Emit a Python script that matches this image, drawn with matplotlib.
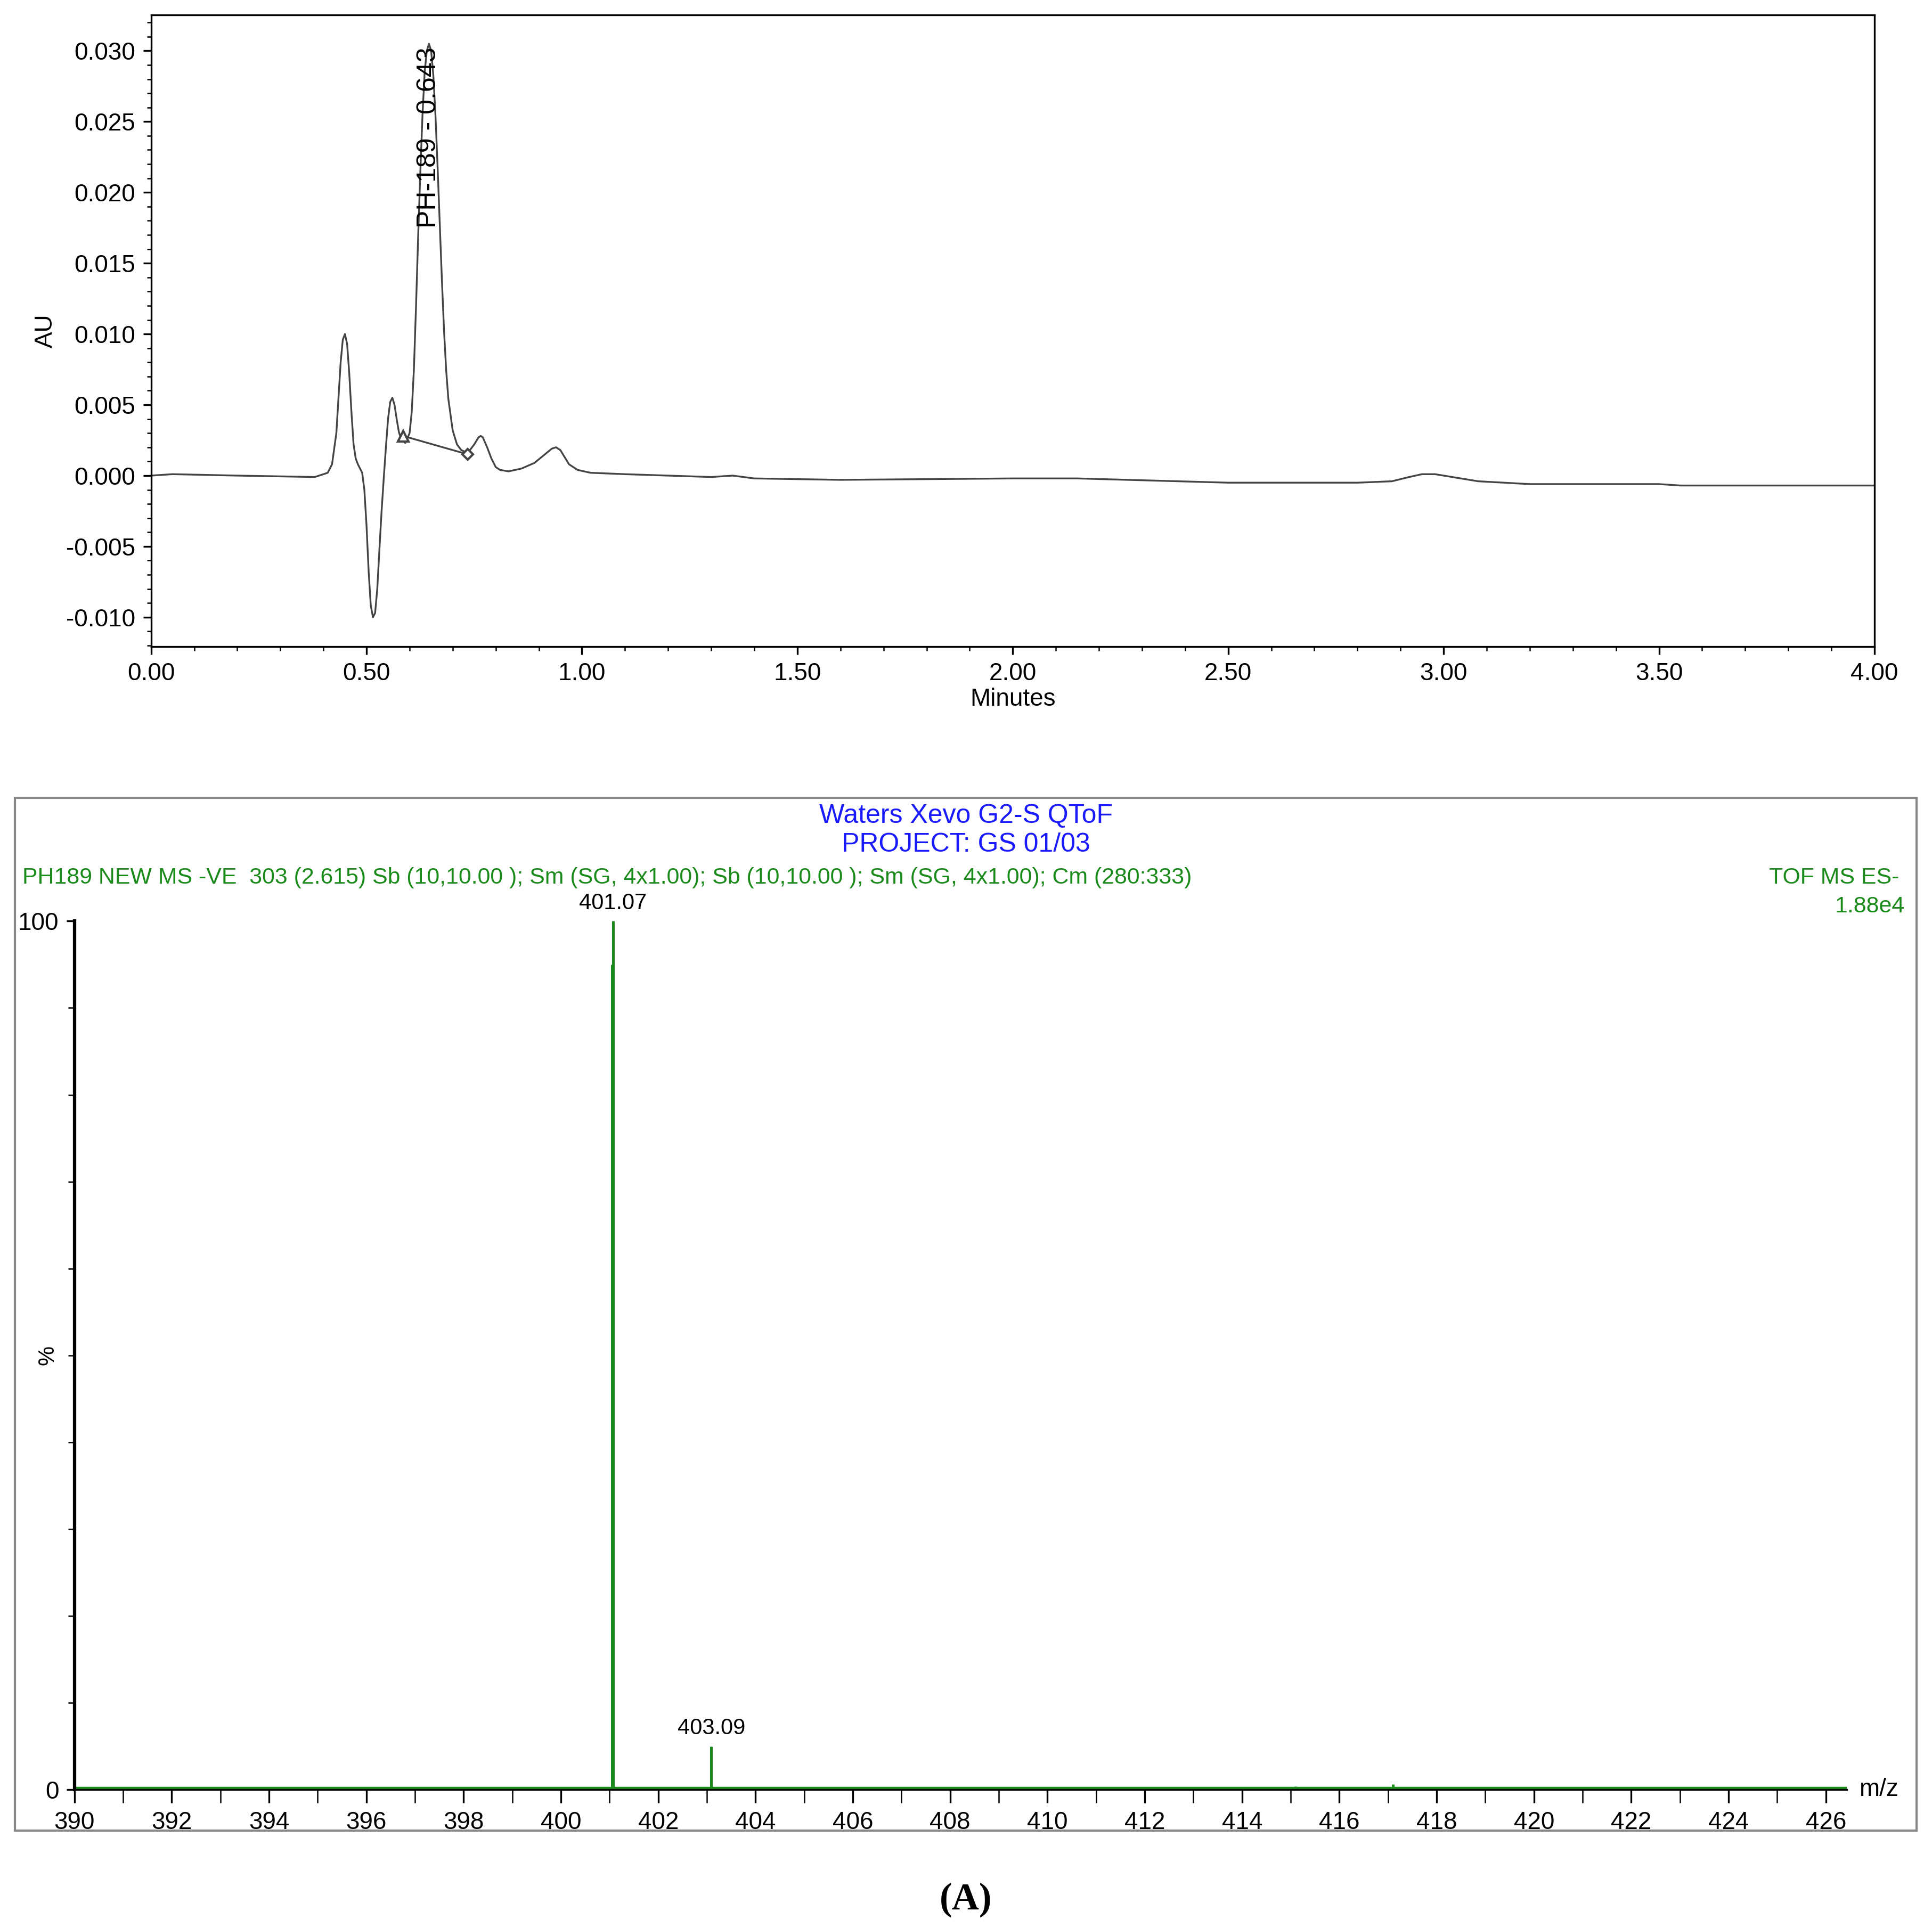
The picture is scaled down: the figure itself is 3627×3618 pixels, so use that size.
import matplotlib.pyplot as plt
from matplotlib.patches import Rectangle
from matplotlib.ticker import MultipleLocator

plt.rcParams['font.family'] = ['Liberation Sans', 'DejaVu Sans']

# chromatogram trace (minutes, AU)
time_min = [0.00, 0.05, 0.20, 0.38, 0.41, 0.42, 0.43, 0.435, 0.44, 0.445, 0.45, 0.455,
            0.46, 0.465, 0.47, 0.475, 0.48, 0.49, 0.495, 0.50, 0.505, 0.51, 0.515, 0.52,
            0.525, 0.53, 0.535, 0.54, 0.545, 0.55, 0.555, 0.56, 0.565, 0.57, 0.575, 0.58,
            0.59, 0.60, 0.605, 0.61, 0.615, 0.62, 0.625, 0.63, 0.635, 0.64, 0.645, 0.65,
            0.655, 0.66, 0.665, 0.67, 0.675, 0.68, 0.685, 0.69, 0.70, 0.71, 0.72, 0.735,
            0.75, 0.76, 0.765, 0.77, 0.78, 0.79, 0.80, 0.81, 0.83, 0.86, 0.89, 0.91,
            0.93, 0.94, 0.95, 0.96, 0.97, 0.99, 1.02, 1.10, 1.30, 1.35, 1.40, 1.60,
            2.00, 2.15, 2.50, 2.80, 2.88, 2.92, 2.95, 2.98, 3.02, 3.08, 3.20, 3.50,
            3.55, 4.00]
absorb = [0.0000, 0.0001, 0.0000, -0.0001, 0.0002, 0.0008, 0.0030, 0.0055, 0.0080, 0.0096,
          0.0100, 0.0093, 0.0072, 0.0045, 0.0022, 0.0012, 0.0008, 0.0002, -0.0010, -0.0035,
          -0.0068, -0.0092, -0.0100, -0.0097, -0.0080, -0.0052, -0.0025, -0.0002, 0.0020,
          0.0040, 0.0052, 0.0055, 0.0050, 0.0040, 0.0031, 0.0026, 0.0023, 0.0030, 0.0045,
          0.0075, 0.0120, 0.0170, 0.0215, 0.0255, 0.0285, 0.0300, 0.0305, 0.0300, 0.0283,
          0.0255, 0.0218, 0.0178, 0.0138, 0.0102, 0.0074, 0.0054, 0.0032, 0.0022, 0.0018,
          0.0016, 0.0022, 0.0027, 0.0028, 0.0027, 0.0020, 0.0012, 0.0006, 0.0004, 0.0003,
          0.0005, 0.0009, 0.0014, 0.0019, 0.0020, 0.0018, 0.0013, 0.0008, 0.0004, 0.0002,
          0.0001, -0.0001, 0.0000, -0.0002, -0.0003, -0.0002, -0.0002, -0.0005, -0.0005,
          -0.0004, -0.0001, 0.0001, 0.0001, -0.0001, -0.0004, -0.0006, -0.0006, -0.0007,
          -0.0007]
baseline_t = [0.585, 0.735]
baseline_au = [0.0028, 0.0015]
peak_label = "PH-189 - 0.643"

# mass spectrum (m/z, relative %)
mz = [391.1, 395.4, 401.05, 401.07, 401.3, 403.09, 415.1, 416.1, 417.1]
intensity = [0.2, 0.2, 95, 100, 0.3, 5, 0.4, 0.3, 0.6]
labelled = [(401.07, 100, "401.07"), (403.09, 5, "403.09")]

fig = plt.figure(figsize=(12.09, 12.06), dpi=300)

# ---- chromatogram
ax = fig.add_axes([0.0782, 0.6645, 0.8974 * 0.994, 0.3278])
ax.plot(time_min, absorb, color="#444444", lw=0.8)
ax.plot(baseline_t, baseline_au, color="#444444", lw=0.8)
ax.plot(baseline_t[0], baseline_au[0], marker="^", mfc="white", mec="#444444", ms=5)
ax.plot(baseline_t[1], baseline_au[1], marker="D", mfc="white", mec="#444444", ms=3.5)
ax.text(0.645, 0.0175, peak_label, rotation=90, ha="center", va="bottom", fontsize=12)
ax.set_xlim(0, 4.0)
ax.set_ylim(-0.01207, 0.03254)
ax.xaxis.set_major_locator(MultipleLocator(0.5))
ax.xaxis.set_minor_locator(MultipleLocator(0.1))
ax.yaxis.set_major_locator(MultipleLocator(0.005))
ax.yaxis.set_minor_locator(MultipleLocator(0.001))
ax.xaxis.set_major_formatter(lambda v, p: f"{v:.2f}")
ax.yaxis.set_major_formatter(lambda v, p: f"{v:.3f}")
ax.tick_params(direction="out", labelsize=11)
ax.tick_params(which="minor", length=2)
ax.set_xlabel("Minutes", fontsize=11, labelpad=1)
ax.set_ylabel("AU", fontsize=11)

# ---- spectrum frame
fig.patches.append(Rectangle((0.0077, 0.050), 0.9843, 0.536, transform=fig.transFigure,
                             fill=False, ec="#888888", lw=1))
fig.text(0.5, 0.5765, "Waters Xevo G2-S QToF", color="#1a1aff", ha="center", va="center", fontsize=12)
fig.text(0.5, 0.5615, "PROJECT: GS 01/03", color="#1a1aff", ha="center", va="center", fontsize=12)
fig.text(0.0115, 0.5445, "PH189 NEW MS -VE  303 (2.615) Sb (10,10.00 ); Sm (SG, 4x1.00); "
         "Sb (10,10.00 ); Sm (SG, 4x1.00); Cm (280:333)", color="#1a8a1a", ha="left",
         va="center", fontsize=10.3)
fig.text(0.983, 0.5445, "TOF MS ES-", color="#1a8a1a", ha="right", va="center", fontsize=10.3)
fig.text(0.986, 0.5295, "1.88e4", color="#1a8a1a", ha="right", va="center", fontsize=10.3)

bx = fig.add_axes([0.0385, 0.0713, 0.9211 * 0.996, 0.4507])
bx.vlines(mz, 0, intensity, color="#1a8a1a", lw=1.2)
bx.axhline(0, color="#1a8a1a", lw=2.5, zorder=0)
for x, y, s in labelled:
    bx.text(x, y + 0.8, s, ha="center", va="bottom", fontsize=10)
bx.set_xlim(390, 426.43)
bx.set_ylim(0, 100)
for s in ("top", "right"):
    bx.spines[s].set_visible(False)
bx.spines["left"].set_linewidth(1.5)
bx.xaxis.set_major_locator(MultipleLocator(2))
bx.xaxis.set_minor_locator(MultipleLocator(1))
bx.set_yticks([0, 100])
bx.yaxis.set_minor_locator(MultipleLocator(10))
bx.tick_params(labelsize=11)
bx.tick_params(axis="y", which="minor", length=3)
bx.tick_params(axis="x", which="major", length=6)
bx.tick_params(axis="x", which="minor", length=6)
bx.text(-0.015, 0.5, "%", rotation=90, transform=bx.transAxes, ha="center", va="center", fontsize=10)
bx.text(1.007, 0.0, "m/z", transform=bx.transAxes, ha="left", va="center", fontsize=11)

fig.text(0.5, 0.014, "(A)", ha="center", va="center", fontsize=17, fontweight="bold",
         family="Liberation Serif")

fig.savefig("out.png", dpi=300)
